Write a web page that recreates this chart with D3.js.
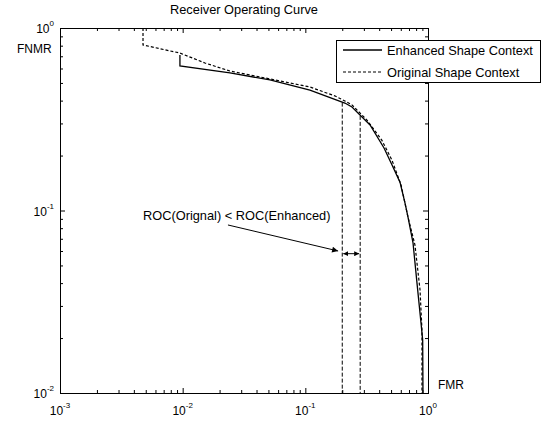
<!DOCTYPE html>
<meta charset="utf-8">
<style type="text/css">
	body { margin: 0; background: #fff; }
	svg { font-family: "Liberation Sans", Arial, sans-serif; }
	.frame { fill: none; stroke: #000; stroke-width: 1; }
	.axis path { display: none; }
	.axis line { stroke: #000; }
	.enhanced { fill: none; stroke: #000; stroke-width: 1.3; }
	.original { fill: none; stroke: #000; stroke-width: 1.2; stroke-dasharray: 3,2; }
	.marker-line { fill: none; stroke: #000; stroke-width: 1; stroke-dasharray: 4,2; }
	.label { font-size: 12px; fill: #000; }
	.big { font-size: 12.8px; }
</style>
<body></body>
<script src="https://d3js.org/d3.v7.min.js"></script>
<script>

	// ---- data ----
	var title = "Receiver Operating Curve";
	var xTicks = [1e-3, 1e-2, 1e-1, 1];
	var yTicks = [1e-2, 1e-1, 1];

	// Enhanced Shape Context (solid)
	var enhFMR  = [0.0095, 0.0095, 0.0243, 0.0515, 0.109, 0.210, 0.240, 0.279, 0.337, 0.438, 0.508, 0.591, 0.649, 0.687, 0.755, 0.813, 0.877, 0.905, 0.910];
	var enhFNMR = [0.711, 0.619, 0.567, 0.519, 0.457, 0.388, 0.369, 0.334, 0.294, 0.220, 0.178, 0.143, 0.110, 0.0921, 0.0664, 0.0401, 0.0242, 0.0195, 0.01];

	// Original Shape Context (dashed)
	var origFMR  = [0.00475, 0.00475, 0.0095, 0.0152, 0.0243, 0.0515, 0.109, 0.175, 0.210, 0.240, 0.318, 0.420, 0.508, 0.603, 0.687, 0.783, 0.861, 0.893, 0.893];
	var origFNMR = [1.0, 0.807, 0.729, 0.643, 0.581, 0.526, 0.475, 0.424, 0.398, 0.379, 0.313, 0.243, 0.189, 0.138, 0.092, 0.0647, 0.0367, 0.0221, 0.01];

	var seriesNames = ["Enhanced Shape Context", "Original Shape Context"];

	// annotation
	var markFMR = [0.2, 0.28];
	var markTop = [0.39, 0.33];
	var gapFNMR = 0.058;
	var noteText = "ROC(Orignal) < ROC(Enhanced)";
	var noteAt = [0.00475, 0.0887];
	var arrowFrom = [0.0234, 0.0833];
	var arrowTo = [0.185, 0.060];

	// ---- layout ----
	var margin = {top: 28, right: 114, bottom: 28, left: 60};
	var W = 542, H = 421;
	var width = W - margin.left - margin.right;
	var height = H - margin.top - margin.bottom;

	var xScale = d3.scaleLog().domain([1e-3, 1]).range([0, width]);
	var yScale = d3.scaleLog().domain([1e-2, 1]).range([height, 0]);

	function minors(lo, hi) {
		var out = [];
		for (var e = Math.log10(lo); e < Math.log10(hi); e++)
			for (var k = 2; k <= 9; k++) out.push(k * Math.pow(10, e));
		return out;
	}

	var svg = d3.select("body").append("svg")
		.attr("width", W)
		.attr("height", H);

	svg.append("defs").append("clipPath").attr("id", "clip")
		.append("rect").attr("width", width).attr("height", height);

	svg.append("marker")
		.attr("id", "head")
		.attr("viewBox", "0 0 10 10")
		.attr("refX", 10).attr("refY", 5)
		.attr("markerWidth", 9).attr("markerHeight", 6)
		.attr("markerUnits", "userSpaceOnUse")
		.attr("orient", "auto-start-reverse")
		.append("path").attr("d", "M0,0L10,5L0,10z").attr("fill", "#000");

	svg.append("marker")
		.attr("id", "small")
		.attr("viewBox", "0 0 10 10")
		.attr("refX", 10).attr("refY", 5)
		.attr("markerWidth", 5).attr("markerHeight", 5)
		.attr("markerUnits", "userSpaceOnUse")
		.attr("orient", "auto-start-reverse")
		.append("path").attr("d", "M0,0L10,5L0,10z").attr("fill", "#000");

	var g = svg.append("g")
		.attr("transform", "translate(" + margin.left + "," + margin.top + ")");

	// ticks on all four sides, pointing inward
	function tickAxis(axisFn, scale, vals, size, transform) {
		g.append("g")
			.attr("class", "axis")
			.attr("transform", transform)
			.call(axisFn(scale).tickValues(vals).tickSize(-size).tickSizeOuter(0).tickFormat(""));
	}
	var xMin = minors(1e-3, 1), yMin = minors(1e-2, 1);
	tickAxis(d3.axisBottom, xScale, xTicks, 5, "translate(0," + height + ")");
	tickAxis(d3.axisBottom, xScale, xMin, 3, "translate(0," + height + ")");
	tickAxis(d3.axisTop, xScale, xTicks, 5, "translate(0,0)");
	tickAxis(d3.axisTop, xScale, xMin, 3, "translate(0,0)");
	tickAxis(d3.axisLeft, yScale, yTicks, 5, "translate(0,0)");
	tickAxis(d3.axisLeft, yScale, yMin, 3, "translate(0,0)");
	tickAxis(d3.axisRight, yScale, yTicks, 5, "translate(" + width + ",0)");
	tickAxis(d3.axisRight, yScale, yMin, 3, "translate(" + width + ",0)");

	// tick labels 10^n
	function powLabel(sel) {
		sel.append("tspan").text("10");
		sel.append("tspan")
			.attr("dy", -7)
			.style("font-size", "8px")
			.text(function(d) { return Math.round(Math.log10(d)); });
	}

	g.selectAll(".xlab").data(xTicks).enter()
		.append("text")
		.attr("class", "label xlab")
		.attr("text-anchor", "middle")
		.attr("x", function(d) { return xScale(d); })
		.attr("y", height + 22)
		.call(powLabel);

	g.selectAll(".ylab").data(yTicks).enter()
		.append("text")
		.attr("class", "label ylab")
		.attr("text-anchor", "end")
		.attr("x", -6)
		.attr("y", function(d) { return yScale(d) + 5; })
		.call(powLabel);

	svg.append("text")
		.attr("class", "label big")
		.attr("text-anchor", "middle")
		.attr("x", margin.left + width / 2)
		.attr("y", 14)
		.text(title);

	svg.append("text")
		.attr("class", "label")
		.attr("x", 17)
		.attr("y", 53)
		.text("FNMR");

	svg.append("text")
		.attr("class", "label")
		.attr("x", margin.left + width + 10)
		.attr("y", margin.top + height - 4)
		.text("FMR");

	// curves
	var line = d3.line()
		.x(function(d) { return xScale(d[0]); })
		.y(function(d) { return yScale(d[1]); });

	var plot = g.append("g").attr("clip-path", "url(#clip)");

	plot.append("path")
		.datum(d3.zip(origFMR, origFNMR))
		.attr("class", "original")
		.attr("d", line);

	plot.append("path")
		.datum(d3.zip(enhFMR, enhFNMR))
		.attr("class", "enhanced")
		.attr("d", line);

	// annotation: vertical dashed markers
	plot.selectAll(".mark").data(d3.zip(markFMR, markTop)).enter()
		.append("line")
		.attr("class", "marker-line")
		.attr("x1", function(d) { return xScale(d[0]); })
		.attr("x2", function(d) { return xScale(d[0]); })
		.attr("y1", function(d) { return yScale(d[1]); })
		.attr("y2", height);

	g.append("line")
		.attr("x1", xScale(markFMR[0]) + 1)
		.attr("x2", xScale(markFMR[1]) - 1)
		.attr("y1", yScale(gapFNMR))
		.attr("y2", yScale(gapFNMR))
		.attr("stroke", "#000")
		.attr("marker-start", "url(#small)")
		.attr("marker-end", "url(#small)");

	g.append("line")
		.attr("x1", xScale(arrowFrom[0]))
		.attr("y1", yScale(arrowFrom[1]))
		.attr("x2", xScale(arrowTo[0]))
		.attr("y2", yScale(arrowTo[1]))
		.attr("stroke", "#000")
		.attr("marker-end", "url(#head)");

	g.append("text")
		.attr("class", "label big")
		.attr("x", xScale(noteAt[0]))
		.attr("y", yScale(noteAt[1]))
		.text(noteText);

	// frame
	g.append("rect")
		.attr("class", "frame")
		.attr("x", 0.5).attr("y", 0.5)
		.attr("width", width).attr("height", height);

	// legend
	var leg = svg.append("g").attr("transform", "translate(336,40)");
	leg.append("rect")
		.attr("x", 0.5).attr("y", 0.5)
		.attr("width", 204).attr("height", 42)
		.attr("fill", "#fff")
		.attr("stroke", "#000");

	var legItems = leg.selectAll(".item").data(seriesNames).enter()
		.append("g")
		.attr("transform", function(d, i) { return "translate(0," + (10 + i * 22) + ")"; });

	legItems.append("line")
		.attr("class", function(d, i) { return i == 0 ? "enhanced" : "original"; })
		.attr("x1", 7).attr("x2", 46)
		.attr("y1", 0).attr("y2", 0);

	legItems.append("text")
		.attr("class", "label big")
		.attr("x", 51)
		.attr("y", 4.5)
		.text(function(d) { return d; });

</script>
